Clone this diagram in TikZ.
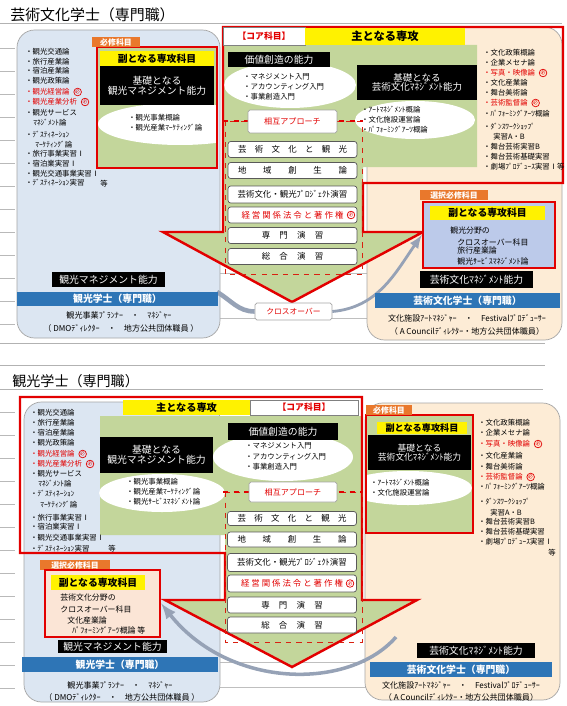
\documentclass[tikz,border=0pt]{standalone}
\usepackage{fontspec}
\setmainfont{Noto Sans CJK JP}
\usetikzlibrary{positioning}

\definecolor{kankoblue}{RGB}{220,230,242}
\definecolor{geibeige}{RGB}{253,236,214}
\definecolor{coregreen}{RGB}{195,214,155}
\definecolor{taborange}{RGB}{233,120,44}
\definecolor{barblue}{RGB}{46,117,182}
\definecolor{keyred}{RGB}{226,0,0}
\definecolor{subblue}{RGB}{188,202,234}
\definecolor{subpeach}{RGB}{251,229,214}
\definecolor{curvegray}{RGB}{150,162,182}

\newcommand{\fsz}[1]{\fontsize{#1}{#1}\selectfont}
\newcommand{\spread}[2]{\makebox[#1][s]{#2}}

\begin{document}
\begin{tikzpicture}[x=0.02cm,y=-0.02cm,
    lst/.style={anchor=west,inner sep=0pt,font=\fsz{4.2}},
    redlst/.style={lst,text=keyred},
    mk/.style={draw=keyred,circle,inner sep=0.2pt,text=keyred,font=\fsz{2.8}},
    tabbox/.style={fill=taborange,text=white,font=\bfseries\fsz{4.5},inner sep=0pt},
    ybar/.style={fill=yellow,font=\bfseries\fsz{5.6},inner sep=0pt},
    bbox/.style={fill=black,text=white,font=\fsz{5.6},inner sep=0pt,align=center},
    bluebar/.style={fill=barblue,text=white,font=\bfseries\fsz{5.6},inner sep=0pt},
    redbox/.style={draw=keyred,line width=1.4pt,inner sep=0pt},
    crs/.style={draw=black!65,fill=white,rounded corners=1.5pt,font=\fsz{4.8},inner sep=0pt,minimum width=2.58cm,minimum height=0.32cm},
    tagbox/.style={draw=gray!70,fill=white,rounded corners=1pt,text=keyred,font=\fsz{4.6},inner sep=0pt},
    job/.style={inner sep=0pt,font=\fsz{4.6}},
    cross/.style={curvegray,line width=2pt}]
\useasboundingbox (0,0) rectangle (566,706);
\fill[white] (0,0) rectangle (566,706);

% page lines and ruler ticks
\draw[gray!60] (0,23) -- (562,23);
\draw[gray!60] (0,343) -- (545,343);
\draw[gray!60] (0,365) -- (545,365);
\draw[gray!60] (0,389) -- (543,389);
\draw[gray!55] (0,48) -- (15,48) (0,71) -- (15,71) (0,94) -- (15,94) (0,117) -- (15,117)
  (0,140) -- (15,140) (0,163) -- (15,163) (0,186) -- (15,186) (0,209) -- (15,209)
  (0,232) -- (15,232) (0,255) -- (15,255) (0,278) -- (15,278) (0,301) -- (15,301) (0,324) -- (15,324);
\draw[gray!55] (0,412) -- (15,412) (0,435) -- (15,435) (0,458) -- (15,458) (0,481) -- (15,481)
  (0,504) -- (15,504) (0,527) -- (15,527) (0,550) -- (15,550) (0,573) -- (15,573)
  (0,596) -- (15,596) (0,619) -- (15,619) (0,642) -- (15,642) (0,665) -- (15,665) (0,688) -- (15,688);

\node[anchor=south west,inner sep=0pt,font=\fsz{8.5}] (ttl1) at (10,22) {芸術文化学士（専門職）};
\node[anchor=south west,inner sep=0pt,font=\fsz{8}] (ttl2) at (12,388) {観光学士（専門職）};

%%%%%%%% upper: arts degree
\draw[gray!50,fill=white] (215,273) rectangle (372,318);
\draw[gray!70,fill=kankoblue,rounded corners=10pt] (17,30) rectangle (220,338);
\draw[gray!70,fill=geibeige,rounded corners=10pt] (367,27) rectangle (562,340);

\fill[coregreen] (223,45) -- (477,45) -- (477,167) -- (363,167) -- (363,232) -- (423,232)
  -- (292,302) -- (163,232) -- (223,232) -- cycle;
\fill[white] (290,85) ellipse [x radius=66, y radius=23];
\begin{scope}
  \clip (223,45) rectangle (477,167);
  \fill[white] (415,120) ellipse [x radius=60, y radius=19];
\end{scope}
\draw[keyred,line width=1.4pt] (223,27) -- (563,27) -- (563,183) -- (363,183) -- (363,232)
  -- (423,232) -- (292,302) -- (163,232) -- (223,232) -- cycle;

% required box, left
\fill[coregreen] (97,47) rectangle (217,168);
\begin{scope}
  \clip (97,47) rectangle (217,168);
  \fill[white] (180,124) ellipse [x radius=82, y radius=21];
\end{scope}
\node[redbox,minimum width=2.4cm,minimum height=2.42cm] (lreq1) at (157,107.5) {};
\node[tabbox,minimum width=0.96cm,minimum height=0.2cm] (lreq1t) at (116,42.5) {必修科目};
\node[ybar,minimum width=2.28cm,minimum height=0.3cm] (lreq1y) at (157,58.5) {副となる専攻科目};
\node[bbox,minimum width=2.28cm,minimum height=0.78cm] (lreq1b) at (157,85.5) {基礎となる\\観光マネジメント能力};
\node[lst] (lreq1a) at (128,118) {・観光事業概論};
\node[lst] (lreq1c) at (128,128) {・観光産業ﾏｰｹﾃｨﾝｸﾞ論};

% tourism list, upper
\node[lst] (k1) at (25,52) {・観光交通論};
\node[lst] (k2) at (25,62) {・旅行産業論};
\node[lst] (k3) at (25,71) {・宿泊産業論};
\node[lst] (k4) at (25,81) {・観光政策論};
\node[redlst] (k5) at (25,92) {・観光経営論};
\node[mk,right=2pt of k5] (k5m) {必};
\node[redlst] (k6) at (25,102) {・観光産業分析};
\node[mk,right=2pt of k6] (k6m) {必};
\node[lst] (k7) at (25,113) {・観光サービス};
\node[lst] (k8) at (33,123) {ﾏﾈｼﾞﾒﾝﾄ論};
\node[lst] (k9) at (25,135) {・ﾃﾞｽﾃｨﾈｰｼｮﾝ};
\node[lst] (k10) at (35,145) {ﾏｰｹﾃｨﾝｸﾞ論};
\node[lst] (k11) at (25,154) {・旅行事業実習Ⅰ};
\node[lst] (k12) at (25,164) {・宿泊業実習Ⅰ};
\node[lst] (k13) at (25,174) {・観光交通事業実習Ⅰ};
\node[lst] (k14) at (25,183) {・ﾃﾞｽﾃｨﾈｰｼｮﾝ実習};
\node[lst] (k15) at (100,184) {等};

% core column, upper
\node[draw=black!50,fill=white,text=keyred,font=\bfseries\fsz{5},inner sep=0pt,
  minimum width=1.64cm,minimum height=0.36cm] (core1) at (264,36) {【コア科目】};
\node[ybar,font=\bfseries\fsz{6.4},minimum width=3.2cm,minimum height=0.34cm] (main1) at (385,36.5) {主となる専攻};
\node[bbox,minimum width=2.04cm,minimum height=0.3cm] (val1) at (279,59.5) {価値創造の能力};
\node[lst] (val1a) at (243,77) {・マネジメント入門};
\node[lst] (val1b) at (243,87) {・アカウンティング入門};
\node[lst] (val1c) at (243,97) {・事業創造入門};

\node[bbox,font=\fsz{5.4},minimum width=2.4cm,minimum height=0.7cm] (gb1) at (417,82.5) {基礎となる\\芸術文化ﾏﾈｼﾞﾒﾝﾄ能力};
\node[lst] (gb1a) at (361,110) {・ｱｰﾄﾏﾈｼﾞﾒﾝﾄ概論};
\node[lst] (gb1b) at (361,120) {・文化施設運営論};
\node[lst] (gb1c) at (361,130) {・ﾊﾟﾌｫｰﾐﾝｸﾞｱｰﾂ概論};

\draw[keyred!75!brown,dashed] (225,121) rectangle (362,274);
\draw[keyred,dashed,line width=0.8pt] (223,121) -- (363,121);
\node[tagbox,minimum width=1.78cm,minimum height=0.46cm] (mut1) at (292.5,121.5) {相互アプローチ};

\node[crs] (s11) at (292.5,149.5) {\spread{62pt}{芸 術 文 化 と 観 光}};
\node[crs] (s12) at (292.5,170.5) {\spread{62pt}{地 域 創 生 論}};
\node[crs,minimum height=0.34cm] (s13) at (292.5,194.5) {芸術文化・観光ﾌﾟﾛｼﾞｪｸﾄ演習};
\node[crs,text=keyred] (s14) at (292.5,215) {\spread{58pt}{経 営 関 係 法 令 と 著 作 権}};
\node[mk] (s14m) at (351,215) {必};
\node[crs] (s15) at (292.5,235.5) {\spread{35pt}{専 門 演 習}};
\node[crs] (s16) at (292.5,256.5) {\spread{35pt}{総 合 演 習}};

% arts list, upper
\node[lst] (g1) at (483,53) {・文化政策概論};
\node[lst] (g2) at (483,63) {・企業メセナ論};
\node[redlst] (g3) at (483,73) {・写真・映像論};
\node[mk,right=2pt of g3] (g3m) {必};
\node[lst] (g4) at (483,83) {・文化産業論};
\node[lst] (g5) at (483,93) {・舞台美術論};
\node[redlst] (g6) at (483,103) {・芸術監督論};
\node[mk,right=2pt of g6] (g6m) {必};
\node[lst] (g7) at (483,114) {・ﾊﾟﾌｫｰﾐﾝｸﾞｱｰﾂ概論};
\node[lst] (g8) at (483,127) {・ﾀﾞﾝｽﾜｰｸｼｮｯﾌﾟ};
\node[lst] (g9) at (493,137) {実習A・B};
\node[lst] (g10) at (483,147) {・舞台芸術実習B};
\node[lst] (g11) at (483,157) {・舞台芸術基礎実習};
\node[lst] (g12) at (483,167) {・劇場ﾌﾟﾛﾃﾞｭｰｽ実習Ⅰ等};

% crossover, upper
\node[tagbox,font=\fsz{4.4},minimum width=1.54cm,minimum height=0.34cm] (xo1) at (293.5,311.5) {クロスオーバー};

% elective box, right
\node[tabbox,minimum width=1.36cm,minimum height=0.2cm] (gsel1t) at (454,195) {選択必修科目};
\node[redbox,fill=subblue,minimum width=2.64cm,minimum height=1.32cm] (gsel1) at (489,235) {};
\node[ybar,minimum width=2.3cm,minimum height=0.28cm] (gsel1y) at (487.5,213) {副となる専攻科目};
\node[lst,font=\fsz{4.5}] (gsel1a) at (450,231) {観光分野の};
\node[lst,font=\fsz{4.5}] (gsel1b) at (457,242) {クロスオーバー科目};
\node[lst,font=\fsz{4.5}] (gsel1c) at (457,251) {旅行産業論};
\node[lst,font=\fsz{4.5}] (gsel1d) at (457,261) {観光ｻｰﾋﾞｽﾏﾈｼﾞﾒﾝﾄ論};

\draw[cross,line width=2.6pt] (217,292) to[out=-30,in=180] (xo1.west);
\draw[cross,line width=1.6pt,-latex] (xo1.east) to[out=5,in=235] (gsel1.west);

% degree bars, upper
\node[bbox,minimum width=2.26cm,minimum height=0.3cm] (kab1) at (108.5,279.5) {観光マネジメント能力};
\node[bluebar,minimum width=4.02cm,minimum height=0.28cm] (kbar1) at (117.5,298.5) {観光学士（専門職）};
\node[job] (kjob1) at (119,315) {観光事業ﾌﾟﾗﾝﾅｰ\quad・\quad ﾏﾈｼﾞｬｰ};
\node[job] (kjob2) at (121,328) {（ DMOﾃﾞｨﾚｸﾀｰ\quad・\quad 地方公共団体職員 ）};
\node[bbox,minimum width=2.26cm,minimum height=0.34cm] (gab1) at (476.5,279.5) {芸術文化ﾏﾈｼﾞﾒﾝﾄ能力};
\node[bluebar,minimum width=3.7cm,minimum height=0.3cm] (gbar1) at (467.5,300.5) {芸術文化学士（専門職）};
\node[job] (gjob1) at (467,318) {文化施設ｱｰﾄﾏﾈｼﾞｬｰ\quad・\quad Festivalﾌﾟﾛﾃﾞｭｰｻｰ};
\node[job] (gjob2) at (467,331) {（ A Councilﾃﾞｨﾚｸﾀｰ・地方公共団体職員）};

%%%%%%%% lower: tourism degree
\draw[gray!50,fill=white] (215,662) rectangle (372,687);
\draw[gray!70,fill=kankoblue,rounded corners=10pt] (24,402) rectangle (220,702);
\draw[gray!70,fill=geibeige,rounded corners=10pt] (365,403) rectangle (560,700);

\fill[coregreen] (100,416) -- (362,416) -- (362,600) -- (417,600) -- (292,667) -- (165,600)
  -- (225,600) -- (225,535) -- (100,535) -- cycle;
\fill[white] (283,457) ellipse [x radius=70, y radius=24];
\fill[white] (162,493) ellipse [x radius=63, y radius=19];
\draw[keyred,line width=1.4pt] (20,397) -- (362,397) -- (362,600) -- (417,600) -- (292,667)
  -- (165,600) -- (225,600) -- (225,553) -- (20,553) -- cycle;

\node[ybar,font=\bfseries\fsz{5.8},minimum width=2.54cm,minimum height=0.3cm] (main2) at (186.5,407.5) {主となる専攻};
\node[draw=black!50,fill=white,text=keyred,font=\bfseries\fsz{5},inner sep=0pt,
  minimum width=2.16cm,minimum height=0.3cm] (core2) at (304,407.5) {【コア科目】};

% tourism list, lower
\node[lst] (t1) at (30,413) {・観光交通論};
\node[lst] (t2) at (30,423) {・旅行産業論};
\node[lst] (t3) at (30,433) {・宿泊産業論};
\node[lst] (t4) at (30,443) {・観光政策論};
\node[redlst] (t5) at (30,454) {・観光経営論};
\node[mk,right=2pt of t5] (t5m) {必};
\node[redlst] (t6) at (30,464) {・観光産業分析};
\node[mk,right=2pt of t6] (t6m) {必};
\node[lst] (t7) at (30,474) {・観光サービス};
\node[lst] (t8) at (38,484) {ﾏﾈｼﾞﾒﾝﾄ論};
\node[lst] (t9) at (30,494) {・ﾃﾞｽﾃｨﾈｰｼｮﾝ};
\node[lst] (t10) at (40,505) {ﾏｰｹﾃｨﾝｸﾞ論};
\node[lst] (t11) at (30,518) {・旅行事業実習Ⅰ};
\node[lst] (t12) at (30,527) {・宿泊業実習Ⅰ};
\node[lst] (t13) at (30,538) {・観光交通事業実習Ⅰ};
\node[lst] (t14) at (30,549) {・ﾃﾞｽﾃｨﾈｰｼｮﾝ実習};
\node[lst] (t15) at (108,549) {等};

\node[bbox,minimum width=2.26cm,minimum height=0.72cm] (kb2) at (156.5,455) {基礎となる\\観光マネジメント能力};
\node[lst] (kb2a) at (126,482) {・観光事業概論};
\node[lst] (kb2b) at (126,492) {・観光産業ﾏｰｹﾃｨﾝｸﾞ論};
\node[lst] (kb2c) at (126,502) {・観光ｻｰﾋﾞｽﾏﾈｼﾞﾒﾝﾄ論};

% core column, lower
\node[bbox,minimum width=2.2cm,minimum height=0.34cm] (val2) at (283,431.5) {価値創造の能力};
\node[lst] (val2a) at (245,446) {・マネジメント入門};
\node[lst] (val2b) at (245,457) {・アカウンティング入門};
\node[lst] (val2c) at (245,467) {・事業創造入門};

\draw[keyred!75!brown,dashed] (225,492) rectangle (362,642);
\draw[keyred,dashed,line width=0.8pt] (223,492) -- (363,492);
\node[tagbox,minimum width=1.76cm,minimum height=0.4cm] (mut2) at (293,492) {相互アプローチ};

\node[crs,minimum height=0.28cm] (s21) at (292,518.5) {\spread{62pt}{芸 術 文 化 と 観 光}};
\node[crs,minimum height=0.3cm] (s22) at (292,539.5) {\spread{62pt}{地 域 創 生 論}};
\node[crs,minimum height=0.36cm] (s23) at (292,562.5) {芸術文化・観光ﾌﾟﾛｼﾞｪｸﾄ演習};
\node[crs,text=keyred,minimum height=0.34cm] (s24) at (292,583.5) {\spread{58pt}{経 営 関 係 法 令 と 著 作 権}};
\node[mk] (s24m) at (350,583.5) {必};
\node[crs] (s25) at (292,605) {\spread{35pt}{専 門 演 習}};
\node[crs] (s26) at (292,625) {\spread{35pt}{総 合 演 習}};

% required box, right
\fill[coregreen] (366,415) rectangle (473,533);
\begin{scope}
  \clip (366,415) rectangle (473,533);
  \fill[white] (408,488) ellipse [x radius=64, y radius=17];
\end{scope}
\node[redbox,minimum width=2.14cm,minimum height=2.36cm] (greq2) at (419.5,474) {};
\node[tabbox,minimum width=0.92cm,minimum height=0.2cm] (greq2t) at (389,410) {必修科目};
\node[ybar,font=\bfseries\fsz{5.2},minimum width=1.8cm,minimum height=0.24cm] (greq2y) at (422,428) {副となる専攻科目};
\node[bbox,font=\fsz{5},minimum width=2.06cm,minimum height=0.7cm] (greq2b) at (419.5,452.5) {基礎となる\\芸術文化ﾏﾈｼﾞﾒﾝﾄ能力};
\node[lst] (greq2a) at (370,483) {・ｱｰﾄﾏﾈｼﾞﾒﾝﾄ概論};
\node[lst] (greq2c) at (370,493) {・文化施設運営論};

% arts list, lower
\node[lst] (a1) at (478,423) {・文化政策概論};
\node[lst] (a2) at (478,433) {・企業メセナ論};
\node[redlst] (a3) at (478,444) {・写真・映像論};
\node[mk,right=2pt of a3] (a3m) {必};
\node[lst] (a4) at (478,456) {・文化産業論};
\node[lst] (a5) at (478,467) {・舞台美術論};
\node[redlst] (a6) at (478,477) {・芸術監督論};
\node[mk,right=2pt of a6] (a6m) {必};
\node[lst] (a7) at (478,487) {・ﾊﾟﾌｫｰﾐﾝｸﾞｱｰﾂ概論};
\node[lst] (a8) at (478,502) {・ﾀﾞﾝｽﾜｰｸｼｮｯﾌﾟ};
\node[lst] (a9) at (490,513) {実習A・B};
\node[lst] (a10) at (478,522) {・舞台芸術実習B};
\node[lst] (a11) at (478,532) {・舞台芸術基礎実習};
\node[lst] (a12) at (478,542) {・劇場ﾌﾟﾛﾃﾞｭｰｽ実習Ⅰ};
\node[lst] (a13) at (548,553) {等};

% elective box, left
\node[tabbox,minimum width=1.4cm,minimum height=0.2cm] (ksel2t) at (75,565) {選択必修科目};
\node[redbox,fill=subpeach,minimum width=2.3cm,minimum height=1.34cm] (ksel2) at (102.5,603.5) {};
\node[ybar,minimum width=1.9cm,minimum height=0.3cm] (ksel2y) at (98,582.5) {副となる専攻科目};
\node[lst,font=\fsz{4.5}] (ksel2a) at (60,598) {芸術文化分野の};
\node[lst,font=\fsz{4.5}] (ksel2b) at (60,609) {クロスオーバー科目};
\node[lst,font=\fsz{4.5}] (ksel2c) at (67,620) {文化産業論};
\node[lst,font=\fsz{4.5}] (ksel2d) at (72,630) {ﾊﾟﾌｫｰﾐﾝｸﾞｱｰﾂ概論\ 等};

\coordinate (gcv2) at (396,637);
\draw[cross,-latex] (gcv2) .. controls (350,690) and (230,690) .. (ksel2.east);

% degree bars, lower
\node[bbox,minimum width=2.18cm,minimum height=0.26cm] (kab2) at (112.5,646.5) {観光マネジメント能力};
\node[bluebar,minimum width=3.92cm,minimum height=0.3cm] (kbar2) at (120,664.5) {観光学士（専門職）};
\node[job] (kjob3) at (120,685) {観光事業ﾌﾟﾗﾝﾅｰ\quad・\quad ﾏﾈｼﾞｬｰ};
\node[job] (kjob4) at (122,697) {（ DMOﾃﾞｨﾚｸﾀｰ\quad・\quad 地方公共団体職員 ）};
\node[bbox,minimum width=2.36cm,minimum height=0.3cm] (gab2) at (476,650.5) {芸術文化ﾏﾈｼﾞﾒﾝﾄ能力};
\node[bluebar,minimum width=3.64cm,minimum height=0.3cm] (gbar2) at (461,669.5) {芸術文化学士（専門職）};
\node[job] (gjob3) at (461,685) {文化施設ｱｰﾄﾏﾈｼﾞｬｰ\quad・\quad Festivalﾌﾟﾛﾃﾞｭｰｻｰ};
\node[job] (gjob4) at (461,697) {（ A Councilﾃﾞｨﾚｸﾀｰ・地方公共団体職員）};
\end{tikzpicture}
\end{document}
